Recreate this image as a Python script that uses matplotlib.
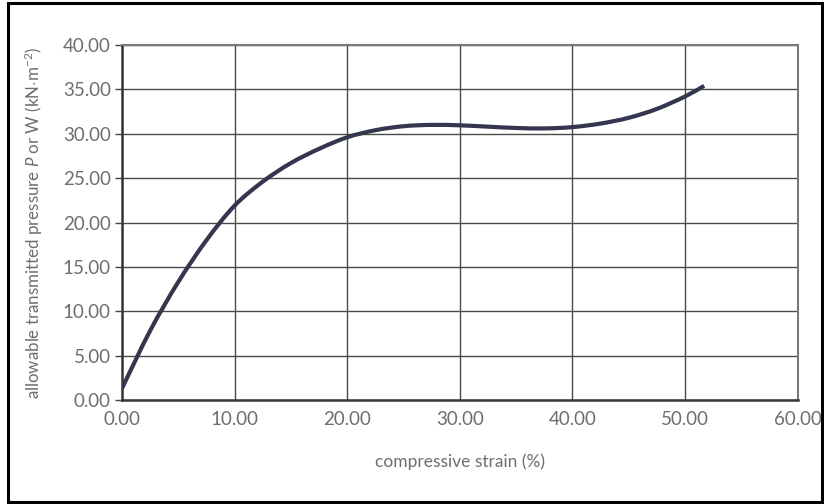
import numpy as np
import matplotlib
matplotlib.use('Agg')
import matplotlib.pyplot as plt
from matplotlib.patches import Rectangle, PathPatch
from matplotlib.path import Path

# values
strain = [0.0, 2.5, 5.0, 7.5, 10.0, 12.5, 15.0, 17.5, 20.0, 22.5, 25.0, 27.5,
          30.0, 32.5, 35.0, 37.5, 40.0, 42.5, 45.0, 47.5, 50.0, 51.7]
pressure = [1.3, 7.8, 13.3, 18.0, 21.9, 24.6, 26.7, 28.3, 29.6, 30.4, 30.85, 31.0,
            30.95, 30.8, 30.65, 30.6, 30.75, 31.15, 31.8, 32.8, 34.2, 35.4]

x_ticks = [0, 10, 20, 30, 40, 50, 60]
y_ticks = [0, 5, 10, 15, 20, 25, 30, 35, 40]

plt.rcParams['font.family'] = ['Lato', 'DejaVu Sans']
plt.rcParams['mathtext.fontset'] = 'custom'
plt.rcParams['mathtext.it'] = 'Lato:italic'
plt.rcParams['mathtext.rm'] = 'Lato'
txt = '#6e6e6e'

fig = plt.figure(figsize=(8.24, 5.04), dpi=100)
ax = fig.add_axes([0.148, 0.2063, 0.820, 0.7044])

# draw the read points as one smooth curve (Catmull-Rom as cubic Beziers)
pts = np.column_stack([strain, pressure])
verts = [pts[0]]
codes = [Path.MOVETO]
for i in range(len(pts) - 1):
    p0 = pts[i - 1] if i > 0 else pts[i]
    p1, p2 = pts[i], pts[i + 1]
    p3 = pts[i + 2] if i + 2 < len(pts) else pts[i + 1]
    verts += [p1 + (p2 - p0) / 6, p2 - (p3 - p1) / 6, p2]
    codes += [Path.CURVE4] * 3
ax.add_patch(PathPatch(Path(verts, codes), fill=False, edgecolor='#34364f',
                       lw=3.0, capstyle='butt', zorder=3))

ax.set_xlim(0, 60)
ax.set_ylim(0, 40)
ax.set_xticks(x_ticks)
ax.set_yticks(y_ticks)
ax.set_xticklabels(['%.2f' % v for v in x_ticks])
ax.set_yticklabels(['%.2f' % v for v in y_ticks])
ax.grid(True, color='#4a4a4a', lw=1.0, zorder=1)
ax.set_axisbelow(True)

ax.tick_params(axis='x', length=0, pad=8, labelsize=13.5, labelcolor=txt)
ax.tick_params(axis='y', length=5, width=1, color='#444444', pad=3,
               labelsize=13.5, labelcolor=txt, direction='out')

for s in ['left', 'bottom']:
    ax.spines[s].set_color('#3a3530')
    ax.spines[s].set_linewidth(1.8)
for s in ['top', 'right']:
    ax.spines[s].set_color('#7a7a7a')
    ax.spines[s].set_linewidth(1.5)

ax.set_xlabel('compressive strain (%)', fontsize=12.5, color=txt, labelpad=18)
ax.set_ylabel(r'allowable transmitted pressure $P$ or W (kN$\cdot$m$^{-2}$)',
              fontsize=12.2, color=txt, labelpad=13)

# frame around the whole picture
fig.patches.append(Rectangle((8 / 824, 2 / 504), 814 / 824, 499 / 504,
                             transform=fig.transFigure, fill=False,
                             edgecolor='black', lw=2.2))

fig.savefig('out.png', dpi=100)
